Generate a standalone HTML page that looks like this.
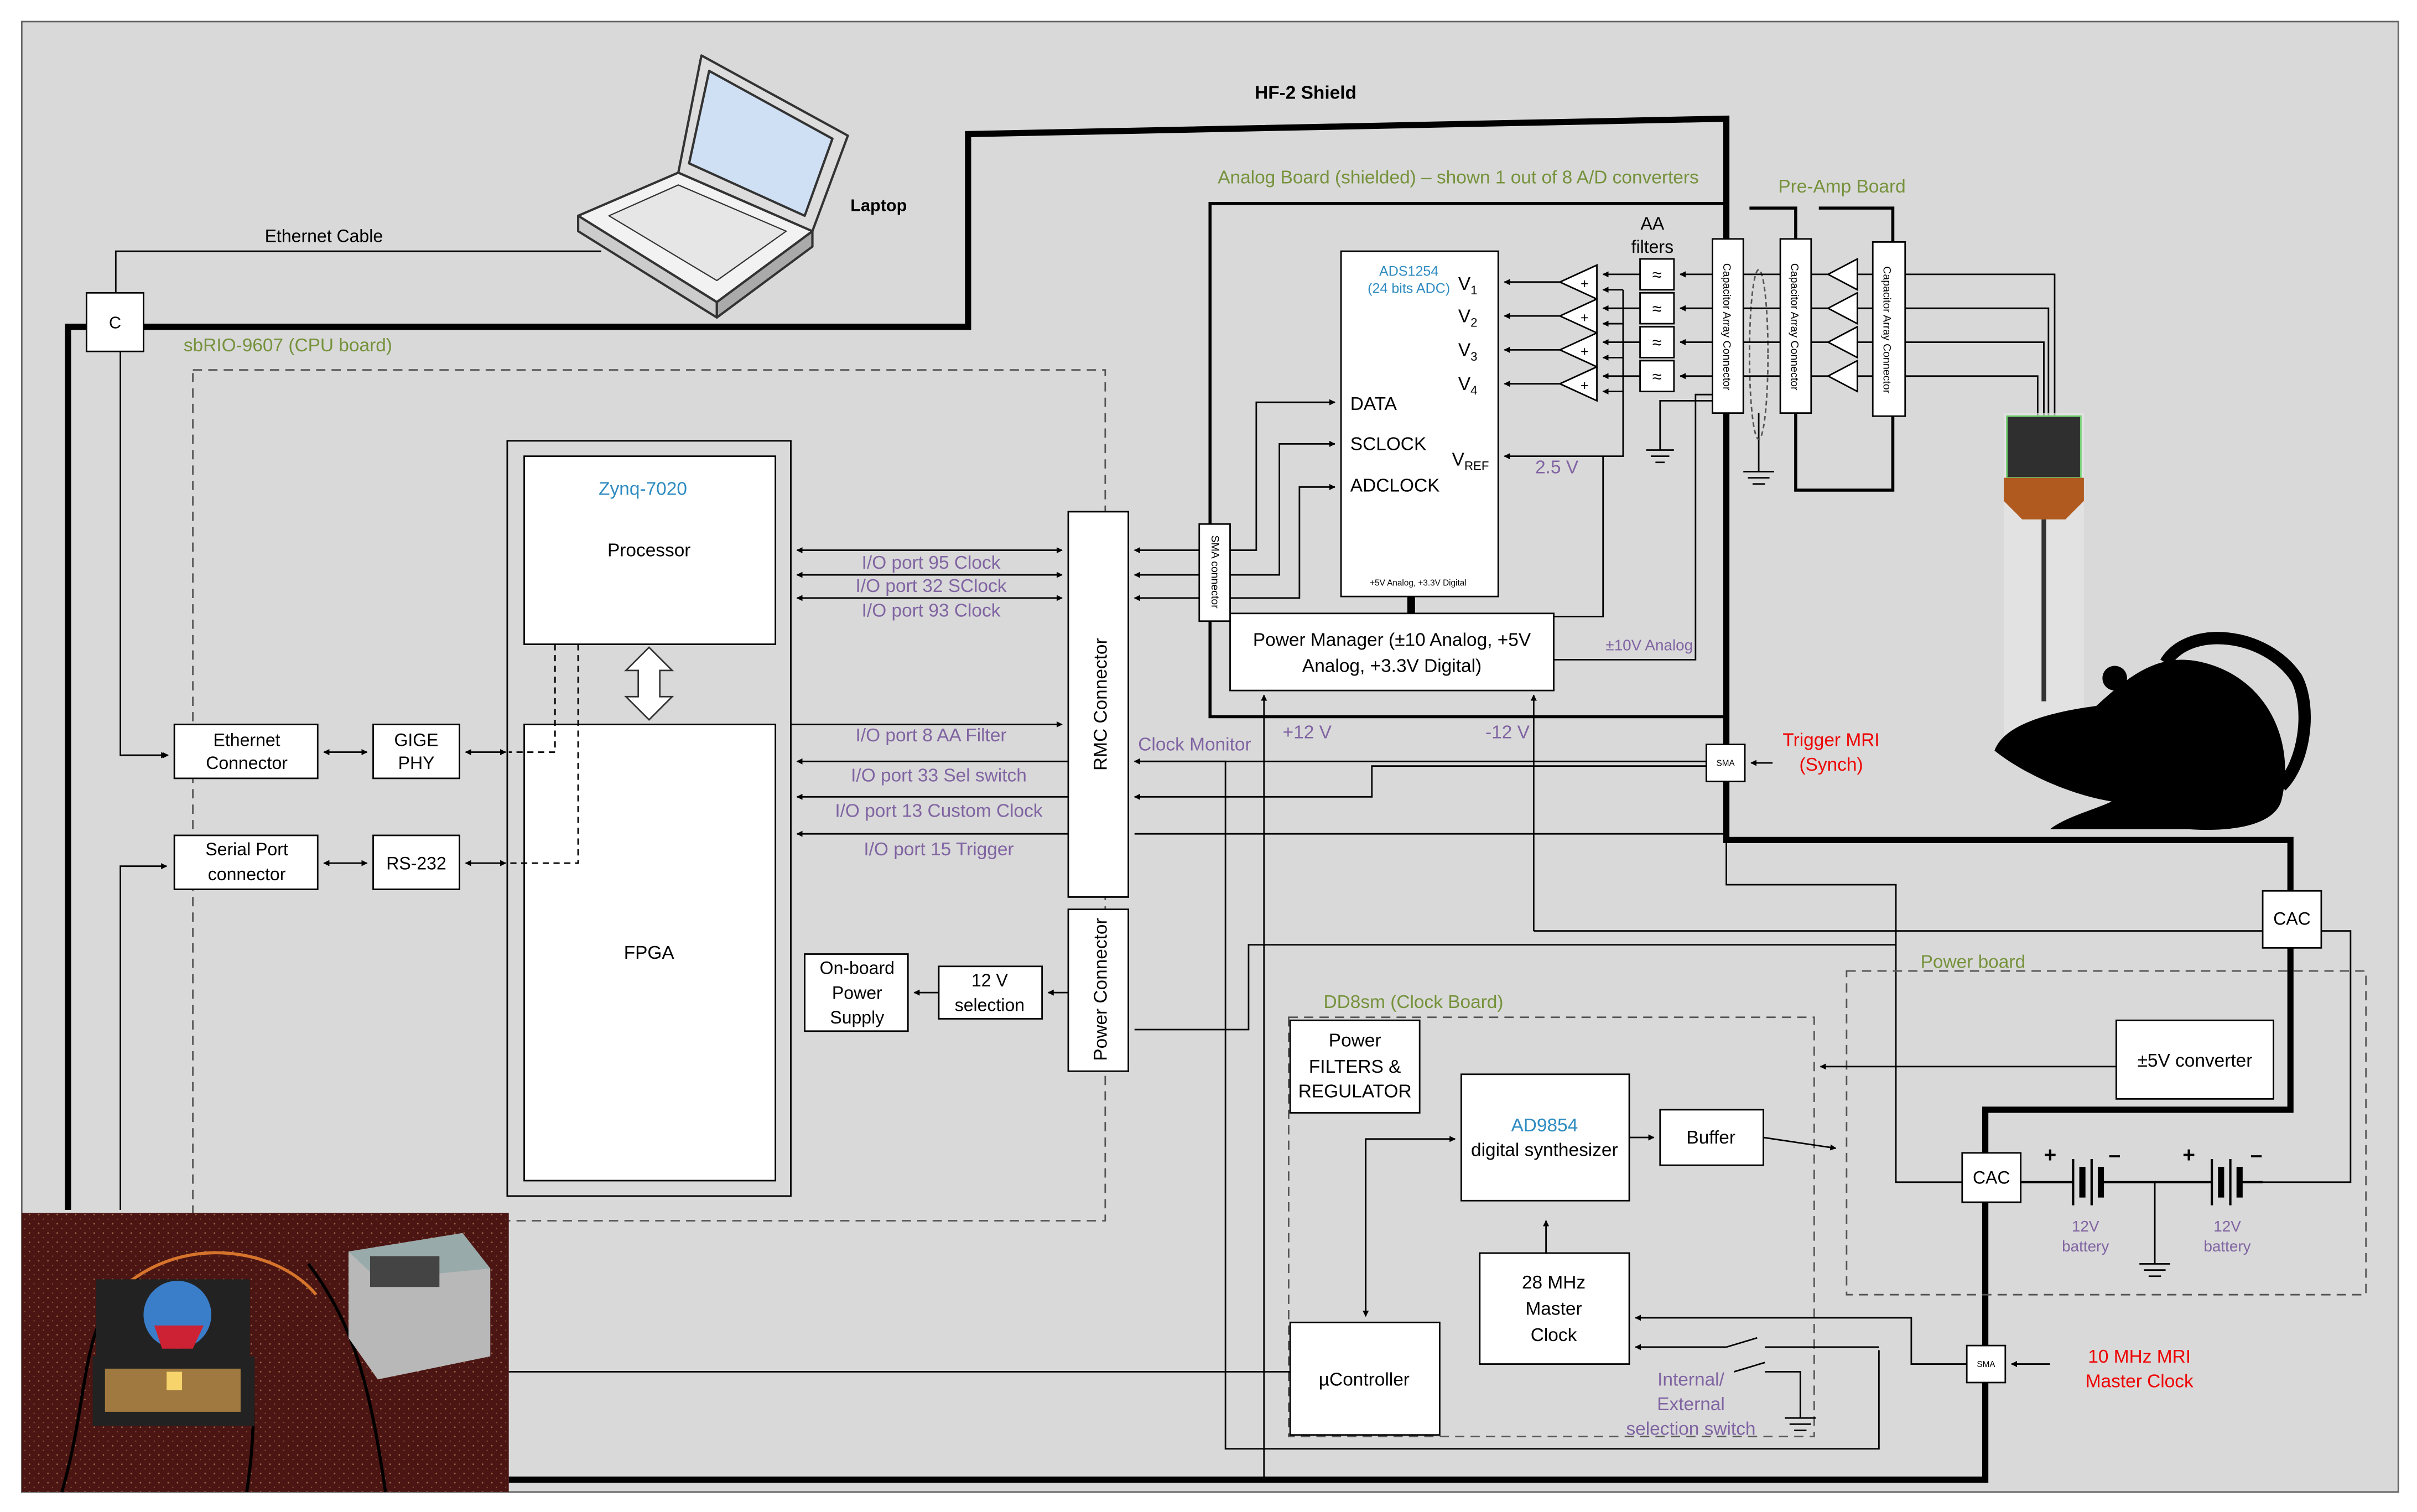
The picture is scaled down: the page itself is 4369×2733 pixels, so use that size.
<!DOCTYPE html>
<html><head><meta charset="utf-8"><style>
html,body{margin:0;padding:0;background:#fff;}
svg{display:block;}
text{font-family:"Liberation Sans",sans-serif;}
</style></head><body>
<svg width="4369" height="2733" viewBox="0 0 1568 981" xmlns="http://www.w3.org/2000/svg">
<defs>
<marker id="a" viewBox="0 0 10 10" refX="9" refY="5" markerWidth="4" markerHeight="4" orient="auto-start-reverse"><path d="M0,0L10,5L0,10z" fill="#000"/></marker>
<pattern id="spk" width="6" height="6" patternUnits="userSpaceOnUse"><rect width="6" height="6" fill="#4a1512"/><circle cx="1" cy="2" r="0.5" fill="#a06a4a"/><circle cx="4" cy="5" r="0.4" fill="#8a5a3a"/></pattern>
</defs>
<rect x="0" y="0" width="1568" height="981" fill="#fff"/>
<rect x="14" y="14" width="1542" height="954" fill="#d9d9d9" stroke="#666" stroke-width="1"/>

<path d="M44,785 V212 H628 V87 L1120,77 V545 H1486 V578 M1486,615 V720 H1288 V748 M1288,780 V960 H330" fill="none" stroke="#000" stroke-width="4"/>
<text x="847" y="64" font-size="12" font-weight="bold" text-anchor="middle">HF-2 Shield</text>

<path d="M75,190 V163 H390" fill="none" stroke="#000" stroke-width="1"/>
<text x="210" y="157" font-size="11.5" text-anchor="middle">Ethernet Cable</text>
<rect x="56" y="190" width="37" height="38" fill="#fff" stroke="#000"/>
<text x="74.5" y="213" font-size="11" text-anchor="middle">C</text>
<path d="M78,228 V490 H108" fill="none" stroke="#000" marker-end="url(#a)"/>
<path d="M78,785 V562 H108" fill="none" stroke="#000" marker-end="url(#a)"/>

<!-- laptop -->
<g stroke="#333" stroke-width="1.5" stroke-linejoin="round">
<path d="M375,140 L440,112 L527,150 L465,196 Z" fill="#f2f2f2"/>
<path d="M375,140 L375,150 L465,206 L465,196 Z" fill="#ccc"/>
<path d="M465,196 L465,206 L527,160 L527,150 Z" fill="#aaa"/>
<path d="M440,112 L455,36 L550,88 L527,150 Z" fill="#ddd"/>
<path d="M447,106 L460,46 L540,90 L522,140 Z" fill="#cfe0f4"/>
<path d="M395,140 L440,120 L510,150 L465,182 Z" fill="#e6e6e6" stroke-width="0.8"/>
</g>
<text x="570" y="137" font-size="11" font-weight="bold" text-anchor="middle">Laptop</text>

<rect x="125" y="240" width="592" height="552" fill="none" stroke="#555" stroke-dasharray="6,4"/>
<text x="119" y="228" font-size="12" fill="#76923c">sbRIO-9607 (CPU board)</text>

<rect x="329" y="286" width="184" height="490" fill="#d9d9d9" stroke="#000"/>
<rect x="340" y="296" width="163" height="122" fill="#fff" stroke="#000"/>
<text x="417" y="321" font-size="12" fill="#2e8bc0" text-anchor="middle">Zynq-7020</text>
<text x="421" y="361" font-size="12" text-anchor="middle">Processor</text>
<rect x="340" y="470" width="163" height="296" fill="#fff" stroke="#000"/>
<text x="421" y="622" font-size="12" text-anchor="middle">FPGA</text>
<path d="M421,420 L436,435 L428,435 L428,452 L436,452 L421,467 L406,452 L414,452 L414,435 L406,435 Z" fill="#fff" stroke="#333"/>
<path d="M360,418 V488 H330 M375,418 V560 H330" fill="none" stroke="#000" stroke-dasharray="4,3"/>

<rect x="113" y="470" width="93" height="35" fill="#fff" stroke="#000"/>
<text x="160" y="484" font-size="11.5" text-anchor="middle">Ethernet</text>
<text x="160" y="499" font-size="11.5" text-anchor="middle">Connector</text>
<rect x="242" y="470" width="56" height="35" fill="#fff" stroke="#000"/>
<text x="270" y="484" font-size="11.5" text-anchor="middle">GIGE</text>
<text x="270" y="499" font-size="11.5" text-anchor="middle">PHY</text>
<rect x="113" y="542" width="93" height="35" fill="#fff" stroke="#000"/>
<text x="160" y="555" font-size="11.5" text-anchor="middle">Serial Port</text>
<text x="160" y="571" font-size="11.5" text-anchor="middle">connector</text>
<rect x="242" y="542" width="56" height="35" fill="#fff" stroke="#000"/>
<text x="270" y="564" font-size="11.5" text-anchor="middle">RS-232</text>
<g stroke="#000" marker-start="url(#a)" marker-end="url(#a)">
<line x1="210" y1="488" x2="238" y2="488"/><line x1="302" y1="488" x2="328" y2="488"/>
<line x1="210" y1="560" x2="238" y2="560"/><line x1="302" y1="560" x2="328" y2="560"/>
<line x1="80" y1="490" x2="109" y2="490" marker-start="none"/>
</g>

<rect x="693" y="332" width="39" height="250" fill="#fff" stroke="#000"/>
<text transform="translate(718,457) rotate(-90)" font-size="12" text-anchor="middle">RMC Connector</text>
<rect x="693" y="590" width="39" height="105" fill="#fff" stroke="#000"/>
<text transform="translate(718,642) rotate(-90)" font-size="12" text-anchor="middle">Power Connector</text>

<g stroke="#000">
<line x1="517" y1="357" x2="689" y2="357" marker-start="url(#a)" marker-end="url(#a)"/>
<line x1="517" y1="373" x2="689" y2="373" marker-start="url(#a)" marker-end="url(#a)"/>
<line x1="517" y1="388" x2="689" y2="388" marker-start="url(#a)" marker-end="url(#a)"/>
<line x1="513" y1="470" x2="689" y2="470" marker-end="url(#a)"/>
<line x1="693" y1="494" x2="517" y2="494" marker-end="url(#a)"/>
<line x1="693" y1="517" x2="517" y2="517" marker-end="url(#a)"/>
<line x1="693" y1="541" x2="517" y2="541" marker-end="url(#a)"/>
</g>
<g font-size="12" fill="#8064a2" text-anchor="middle">
<text x="604" y="369">I/O port 95 Clock</text>
<text x="604" y="384">I/O port 32 SClock</text>
<text x="604" y="400">I/O port 93 Clock</text>
<text x="604" y="481">I/O port 8 AA Filter</text>
<text x="609" y="507">I/O port 33 Sel switch</text>
<text x="609" y="530">I/O port 13 Custom Clock</text>
<text x="609" y="555">I/O port 15 Trigger</text>
<text x="775" y="487">Clock Monitor</text>
</g>

<rect x="522" y="619" width="67" height="50" fill="#fff" stroke="#000"/>
<text x="556" y="632" font-size="11.5" text-anchor="middle">On-board</text>
<text x="556" y="648" font-size="11.5" text-anchor="middle">Power</text>
<text x="556" y="664" font-size="11.5" text-anchor="middle">Supply</text>
<rect x="609" y="627" width="67" height="34" fill="#fff" stroke="#000"/>
<text x="642" y="640" font-size="11.5" text-anchor="middle">12 V</text>
<text x="642" y="656" font-size="11.5" text-anchor="middle">selection</text>
<line x1="609" y1="644" x2="593" y2="644" stroke="#000" marker-end="url(#a)"/>
<line x1="693" y1="644" x2="680" y2="644" stroke="#000" marker-end="url(#a)"/>

<rect x="785" y="132" width="335" height="333" fill="none" stroke="#000" stroke-width="2"/>
<text x="790" y="119" font-size="12" fill="#76923c">Analog Board (shielded) – shown 1 out of 8 A/D converters</text>
<rect x="870" y="163" width="102" height="224" fill="#fff" stroke="#000"/>
<text x="914" y="179" font-size="9" fill="#2e8bc0" text-anchor="middle">ADS1254</text>
<text x="914" y="190" font-size="9" fill="#2e8bc0" text-anchor="middle">(24 bits ADC)</text>
<g font-size="12"><text x="946" y="188">V<tspan font-size="8" dy="3">1</tspan></text>
<text x="946" y="209">V<tspan font-size="8" dy="3">2</tspan></text>
<text x="946" y="231">V<tspan font-size="8" dy="3">3</tspan></text>
<text x="946" y="253">V<tspan font-size="8" dy="3">4</tspan></text>
<text x="942" y="302">V<tspan font-size="8" dy="3">REF</tspan></text>
<text x="876" y="266">DATA</text><text x="876" y="292">SCLOCK</text><text x="876" y="319">ADCLOCK</text></g>
<text x="920" y="380" font-size="5.5" text-anchor="middle">+5V Analog, +3.3V Digital</text>
<rect x="913" y="387" width="5" height="11" fill="#000"/>
<g stroke="#000">
<line x1="1012" y1="183" x2="976" y2="183" marker-end="url(#a)"/>
<line x1="1012" y1="205" x2="976" y2="205" marker-end="url(#a)"/>
<line x1="1012" y1="227" x2="976" y2="227" marker-end="url(#a)"/>
<line x1="1012" y1="249" x2="976" y2="249" marker-end="url(#a)"/>
<line x1="1040" y1="296" x2="976" y2="296" marker-end="url(#a)"/>
</g>
<g fill="#fff" stroke="#000">
<path d="M1012,183 L1036,172 L1036,194 Z"/><path d="M1012,205 L1036,194 L1036,216 Z"/>
<path d="M1012,227 L1036,216 L1036,238 Z"/><path d="M1012,249 L1036,238 L1036,260 Z"/>
</g>
<g font-size="9" text-anchor="middle"><text x="1028" y="187">+</text><text x="1028" y="209">+</text><text x="1028" y="231">+</text><text x="1028" y="253">+</text></g>
<g fill="#fff" stroke="#000">
<rect x="1064" y="168" width="22" height="20"/><rect x="1064" y="190" width="22" height="20"/>
<rect x="1064" y="212" width="22" height="20"/><rect x="1064" y="234" width="22" height="20"/>
</g>
<g font-size="11" text-anchor="middle"><text x="1075" y="182">≈</text><text x="1075" y="204">≈</text><text x="1075" y="226">≈</text><text x="1075" y="248">≈</text></g>
<text x="1072" y="149" font-size="11.5" text-anchor="middle">AA</text>
<text x="1072" y="164" font-size="11.5" text-anchor="middle">filters</text>
<g stroke="#000">
<line x1="1064" y1="178" x2="1040" y2="178" marker-end="url(#a)"/><line x1="1064" y1="200" x2="1040" y2="200" marker-end="url(#a)"/>
<line x1="1064" y1="222" x2="1040" y2="222" marker-end="url(#a)"/><line x1="1064" y1="244" x2="1040" y2="244" marker-end="url(#a)"/>
<line x1="1111" y1="178" x2="1090" y2="178" marker-end="url(#a)"/><line x1="1111" y1="200" x2="1090" y2="200" marker-end="url(#a)"/>
<line x1="1111" y1="222" x2="1090" y2="222" marker-end="url(#a)"/><line x1="1111" y1="244" x2="1090" y2="244" marker-end="url(#a)"/>
<path d="M1053,188 V296 H1040" fill="none"/>
<line x1="1053" y1="188" x2="1040" y2="188" marker-end="url(#a)"/><line x1="1053" y1="210" x2="1040" y2="210" marker-end="url(#a)"/>
<line x1="1053" y1="232" x2="1040" y2="232" marker-end="url(#a)"/><line x1="1053" y1="254" x2="1040" y2="254" marker-end="url(#a)"/>
<path d="M1111,260 H1077 V292 M1068,292 H1086 M1071,296 H1083 M1074,300 H1080" fill="none"/>
<path d="M1111,256 H1100 V428 H1008" fill="none"/>
<path d="M1040,296 V400 H1008" fill="none"/>
<path d="M1141,268 V306 M1131,306 H1151 M1134,310 H1148 M1137,314 H1145" fill="none"/>
</g>
<text x="1010" y="307" font-size="12" fill="#8064a2" text-anchor="middle">2.5 V</text>
<text x="1070" y="422" font-size="10" fill="#8064a2" text-anchor="middle">±10V Analog</text>
<ellipse cx="1141" cy="230" rx="6" ry="55" fill="none" stroke="#555" stroke-dasharray="3,2"/>

<rect x="1111" y="155" width="20" height="113" fill="#fff" stroke="#000"/>
<rect x="1155" y="155" width="20" height="113" fill="#fff" stroke="#000"/>
<rect x="1215" y="157" width="21" height="113" fill="#fff" stroke="#000"/>
<g font-size="7"><text transform="translate(1118,212) rotate(90)" text-anchor="middle">Capacitor Array Connector</text>
<text transform="translate(1162,212) rotate(90)" text-anchor="middle">Capacitor Array Connector</text>
<text transform="translate(1222,214) rotate(90)" text-anchor="middle">Capacitor Array Connector</text></g>
<path d="M1135,135 H1165 V155 M1165,268 V318 H1228 V270 M1228,157 V135 H1180" fill="none" stroke="#000" stroke-width="2"/>
<text x="1195" y="125" font-size="12" fill="#76923c" text-anchor="middle">Pre-Amp Board</text>
<g stroke="#000">
<line x1="1131" y1="178" x2="1155" y2="178"/><line x1="1131" y1="200" x2="1155" y2="200"/>
<line x1="1131" y1="222" x2="1155" y2="222"/><line x1="1131" y1="244" x2="1155" y2="244"/>
<line x1="1175" y1="178" x2="1215" y2="178"/><line x1="1175" y1="200" x2="1215" y2="200"/>
<line x1="1175" y1="222" x2="1215" y2="222"/><line x1="1175" y1="244" x2="1215" y2="244"/>
<path d="M1236,178 H1333 V275 M1236,200 H1329 V275 M1236,222 H1326 V275 M1236,244 H1322 V275" fill="none"/>
</g>
<g fill="#fff" stroke="#000"><path d="M1186,178 L1205,168 V188 Z"/><path d="M1186,200 L1205,190 V210 Z"/><path d="M1186,222 L1205,212 V232 Z"/><path d="M1186,244 L1205,234 V254 Z"/></g>

<rect x="1300" y="268" width="52" height="210" fill="#e6e6e6" opacity="0.7"/>
<rect x="1302" y="270" width="48" height="40" fill="#2f2f2f" stroke="#6fcf6f"/>
<path d="M1300,310 H1352 V325 L1340,337 H1312 L1300,325 Z" fill="#b05a1f"/>
<line x1="1326" y1="337" x2="1326" y2="455" stroke="#333" stroke-width="3"/>

<path d="M1294,487 C1300,470 1330,462 1360,458 C1380,440 1400,422 1430,430 C1470,440 1490,480 1480,520 C1475,535 1450,540 1420,538 L1330,538 C1340,530 1360,525 1370,520 C1340,515 1310,500 1294,487 Z" fill="#000"/>
<path d="M1405,430 C1420,405 1470,410 1490,440 C1500,460 1495,495 1480,510" fill="none" stroke="#000" stroke-width="8"/>
<circle cx="1372" cy="440" r="8" fill="#000"/>

<rect x="798" y="398" width="210" height="50" fill="#fff" stroke="#000"/>
<text x="903" y="419" font-size="12" text-anchor="middle">Power Manager (±10 Analog, +5V</text>
<text x="903" y="436" font-size="12" text-anchor="middle">Analog, +3.3V Digital)</text>

<rect x="778" y="340" width="20" height="63" fill="#fff" stroke="#000"/>
<text transform="translate(786,371) rotate(90)" font-size="7" text-anchor="middle">SMA connector</text>
<g stroke="#000" fill="none">
<line x1="778" y1="357" x2="736" y2="357" marker-end="url(#a)"/>
<path d="M736,373 H778" marker-start="url(#a)"/>
<path d="M736,388 H778" marker-start="url(#a)"/>
<path d="M798,357 H815 V261 H866" marker-end="url(#a)"/>
<path d="M798,373 H830 V288 H866" marker-end="url(#a)"/>
<path d="M798,388 H843 V316 H866" marker-end="url(#a)"/>
<path d="M820,960 V451" marker-end="url(#a)"/>
<path d="M995,604 V451" marker-end="url(#a)"/>
<path d="M736,494 H795 V940 H1219 V876"/>
<path d="M1107,494 H736" marker-end="url(#a)"/>
<path d="M1107,497 H890 V517 H736" marker-end="url(#a)"/>
<path d="M1120,545 V574 H1230 V767 H1273"/>
<path d="M736,541 H1120"/>
<path d="M995,604 H1525 V767 H1468"/>
<path d="M736,668 H810 V613 H1230"/>
</g>
<text x="848" y="479" font-size="12" fill="#8064a2" text-anchor="middle">+12 V</text>
<text x="978" y="479" font-size="12" fill="#8064a2" text-anchor="middle">-12 V</text>

<rect x="1107" y="483" width="25" height="24" fill="#fff" stroke="#000"/>
<text x="1119.5" y="497" font-size="5.5" text-anchor="middle">SMA</text>
<line x1="1150" y1="495" x2="1136" y2="495" stroke="#000" marker-end="url(#a)"/>
<text x="1188" y="484" font-size="12" fill="#e00" text-anchor="middle">Trigger MRI</text>
<text x="1188" y="500" font-size="12" fill="#e00" text-anchor="middle">(Synch)</text>

<rect x="1468" y="578" width="38" height="37" fill="#fff" stroke="#000"/>
<text x="1487" y="600" font-size="11.5" text-anchor="middle">CAC</text>
<rect x="1273" y="748" width="38" height="32" fill="#fff" stroke="#000"/>
<text x="1292" y="768" font-size="11.5" text-anchor="middle">CAC</text>

<rect x="1198" y="630" width="337" height="210" fill="none" stroke="#555" stroke-dasharray="6,4"/>
<text x="1280" y="628" font-size="12" fill="#76923c" text-anchor="middle">Power board</text>
<rect x="1373" y="662" width="102" height="51" fill="#fff" stroke="#000"/>
<text x="1424" y="692" font-size="12" text-anchor="middle">±5V converter</text>
<line x1="1373" y1="692" x2="1181" y2="692" stroke="#000" marker-end="url(#a)"/>
<g stroke="#000" stroke-width="1.5">
<line x1="1311" y1="767" x2="1345" y2="767"/><line x1="1345" y1="752" x2="1345" y2="782"/>
<line x1="1351" y1="757" x2="1351" y2="777" stroke-width="4"/><line x1="1357" y1="752" x2="1357" y2="782"/>
<line x1="1363" y1="757" x2="1363" y2="777" stroke-width="4"/><line x1="1363" y1="767" x2="1435" y2="767"/>
<line x1="1435" y1="752" x2="1435" y2="782"/><line x1="1441" y1="757" x2="1441" y2="777" stroke-width="4"/>
<line x1="1447" y1="752" x2="1447" y2="782"/><line x1="1453" y1="757" x2="1453" y2="777" stroke-width="4"/>
<line x1="1453" y1="767" x2="1468" y2="767"/>
<path d="M1398,767 V820 M1388,820 H1408 M1391,824 H1405 M1394,828 H1402" fill="none" stroke-width="1"/>
</g>
<g font-size="14" font-weight="bold"><text x="1326" y="754">+</text><text x="1368" y="754">–</text><text x="1416" y="754">+</text><text x="1460" y="754">–</text></g>
<g font-size="10" fill="#8064a2" text-anchor="middle"><text x="1353" y="799">12V</text><text x="1353" y="812">battery</text><text x="1445" y="799">12V</text><text x="1445" y="812">battery</text></g>

<rect x="836" y="660" width="341" height="272" fill="none" stroke="#555" stroke-dasharray="6,4"/>
<text x="917" y="654" font-size="12" fill="#76923c" text-anchor="middle">DD8sm (Clock Board)</text>
<rect x="837" y="662" width="84" height="60" fill="#fff" stroke="#000"/>
<text x="879" y="679" font-size="12" text-anchor="middle">Power</text>
<text x="879" y="696" font-size="12" text-anchor="middle">FILTERS &amp;</text>
<text x="879" y="712" font-size="12" text-anchor="middle">REGULATOR</text>
<rect x="948" y="697" width="109" height="82" fill="#fff" stroke="#000"/>
<text x="1002" y="734" font-size="12" fill="#2e8bc0" text-anchor="middle">AD9854</text>
<text x="1002" y="750" font-size="12" text-anchor="middle">digital synthesizer</text>
<rect x="1077" y="720" width="67" height="36" fill="#fff" stroke="#000"/>
<text x="1110" y="742" font-size="12" text-anchor="middle">Buffer</text>
<rect x="960" y="813" width="97" height="72" fill="#fff" stroke="#000"/>
<text x="1008" y="836" font-size="12" text-anchor="middle">28 MHz</text>
<text x="1008" y="853" font-size="12" text-anchor="middle">Master</text>
<text x="1008" y="870" font-size="12" text-anchor="middle">Clock</text>
<rect x="837" y="858" width="97" height="73" fill="#fff" stroke="#000"/>
<text x="885" y="899" font-size="12" text-anchor="middle">µController</text>
<g stroke="#000" fill="none">
<line x1="1057" y1="738" x2="1073" y2="738" marker-end="url(#a)"/>
<line x1="1144" y1="738" x2="1191" y2="745" marker-end="url(#a)"/>
<line x1="1003" y1="813" x2="1003" y2="792" marker-end="url(#a)"/>
<path d="M886,854 V739 H944" marker-end="url(#a)"/>
<line x1="886" y1="739" x2="886" y2="854" marker-end="url(#a)"/>
<path d="M330,890 H837"/>
<path d="M1120,874 H1061" marker-end="url(#a)"/>
<path d="M1276,885 H1240 V855 H1061" marker-end="url(#a)"/>
<path d="M1120,874 L1140,868 M1125,890 L1145,884 M1145,874 H1219 M1145,890 H1168 V920 M1158,920 H1178 M1161,924 H1175 M1164,928 H1172"/>
</g>
<g font-size="12" fill="#8064a2" text-anchor="middle"><text x="1097" y="899">Internal/</text><text x="1097" y="915">External</text><text x="1097" y="931">selection switch</text></g>

<rect x="1276" y="873" width="25" height="24" fill="#fff" stroke="#000"/>
<text x="1288.5" y="887" font-size="5.5" text-anchor="middle">SMA</text>
<line x1="1330" y1="885" x2="1305" y2="885" stroke="#000" marker-end="url(#a)"/>
<text x="1388" y="884" font-size="12" fill="#e00" text-anchor="middle">10 MHz MRI</text>
<text x="1388" y="900" font-size="12" fill="#e00" text-anchor="middle">Master Clock</text>

<rect x="14" y="787" width="316" height="181" fill="url(#spk)"/>
<path d="M40,968 C60,900 50,850 90,830 M160,968 C170,900 160,880 150,860 M250,968 C240,900 230,860 200,820" fill="none" stroke="#000" stroke-width="2"/>
<path d="M80,835 C120,800 180,810 205,840" fill="none" stroke="#d7742c" stroke-width="2"/>
<rect x="62" y="830" width="100" height="52" fill="#222"/>
<circle cx="115" cy="853" r="22" fill="#3a7dc9"/>
<path d="M100,860 H132 L125,875 H105 Z" fill="#c23"/>
<rect x="60" y="880" width="105" height="45" fill="#222"/>
<rect x="68" y="888" width="88" height="28" fill="#a07940"/>
<rect x="108" y="890" width="10" height="12" fill="#f6d36b"/>
<path d="M226,812 L300,800 L318,823 L318,880 L245,895 L226,868 Z" fill="#b8b8b8"/>
<path d="M226,812 L300,800 L318,823 L245,830 Z" fill="#9aa"/>
<rect x="240" y="815" width="45" height="20" fill="#444"/>
</svg>
</body></html>
